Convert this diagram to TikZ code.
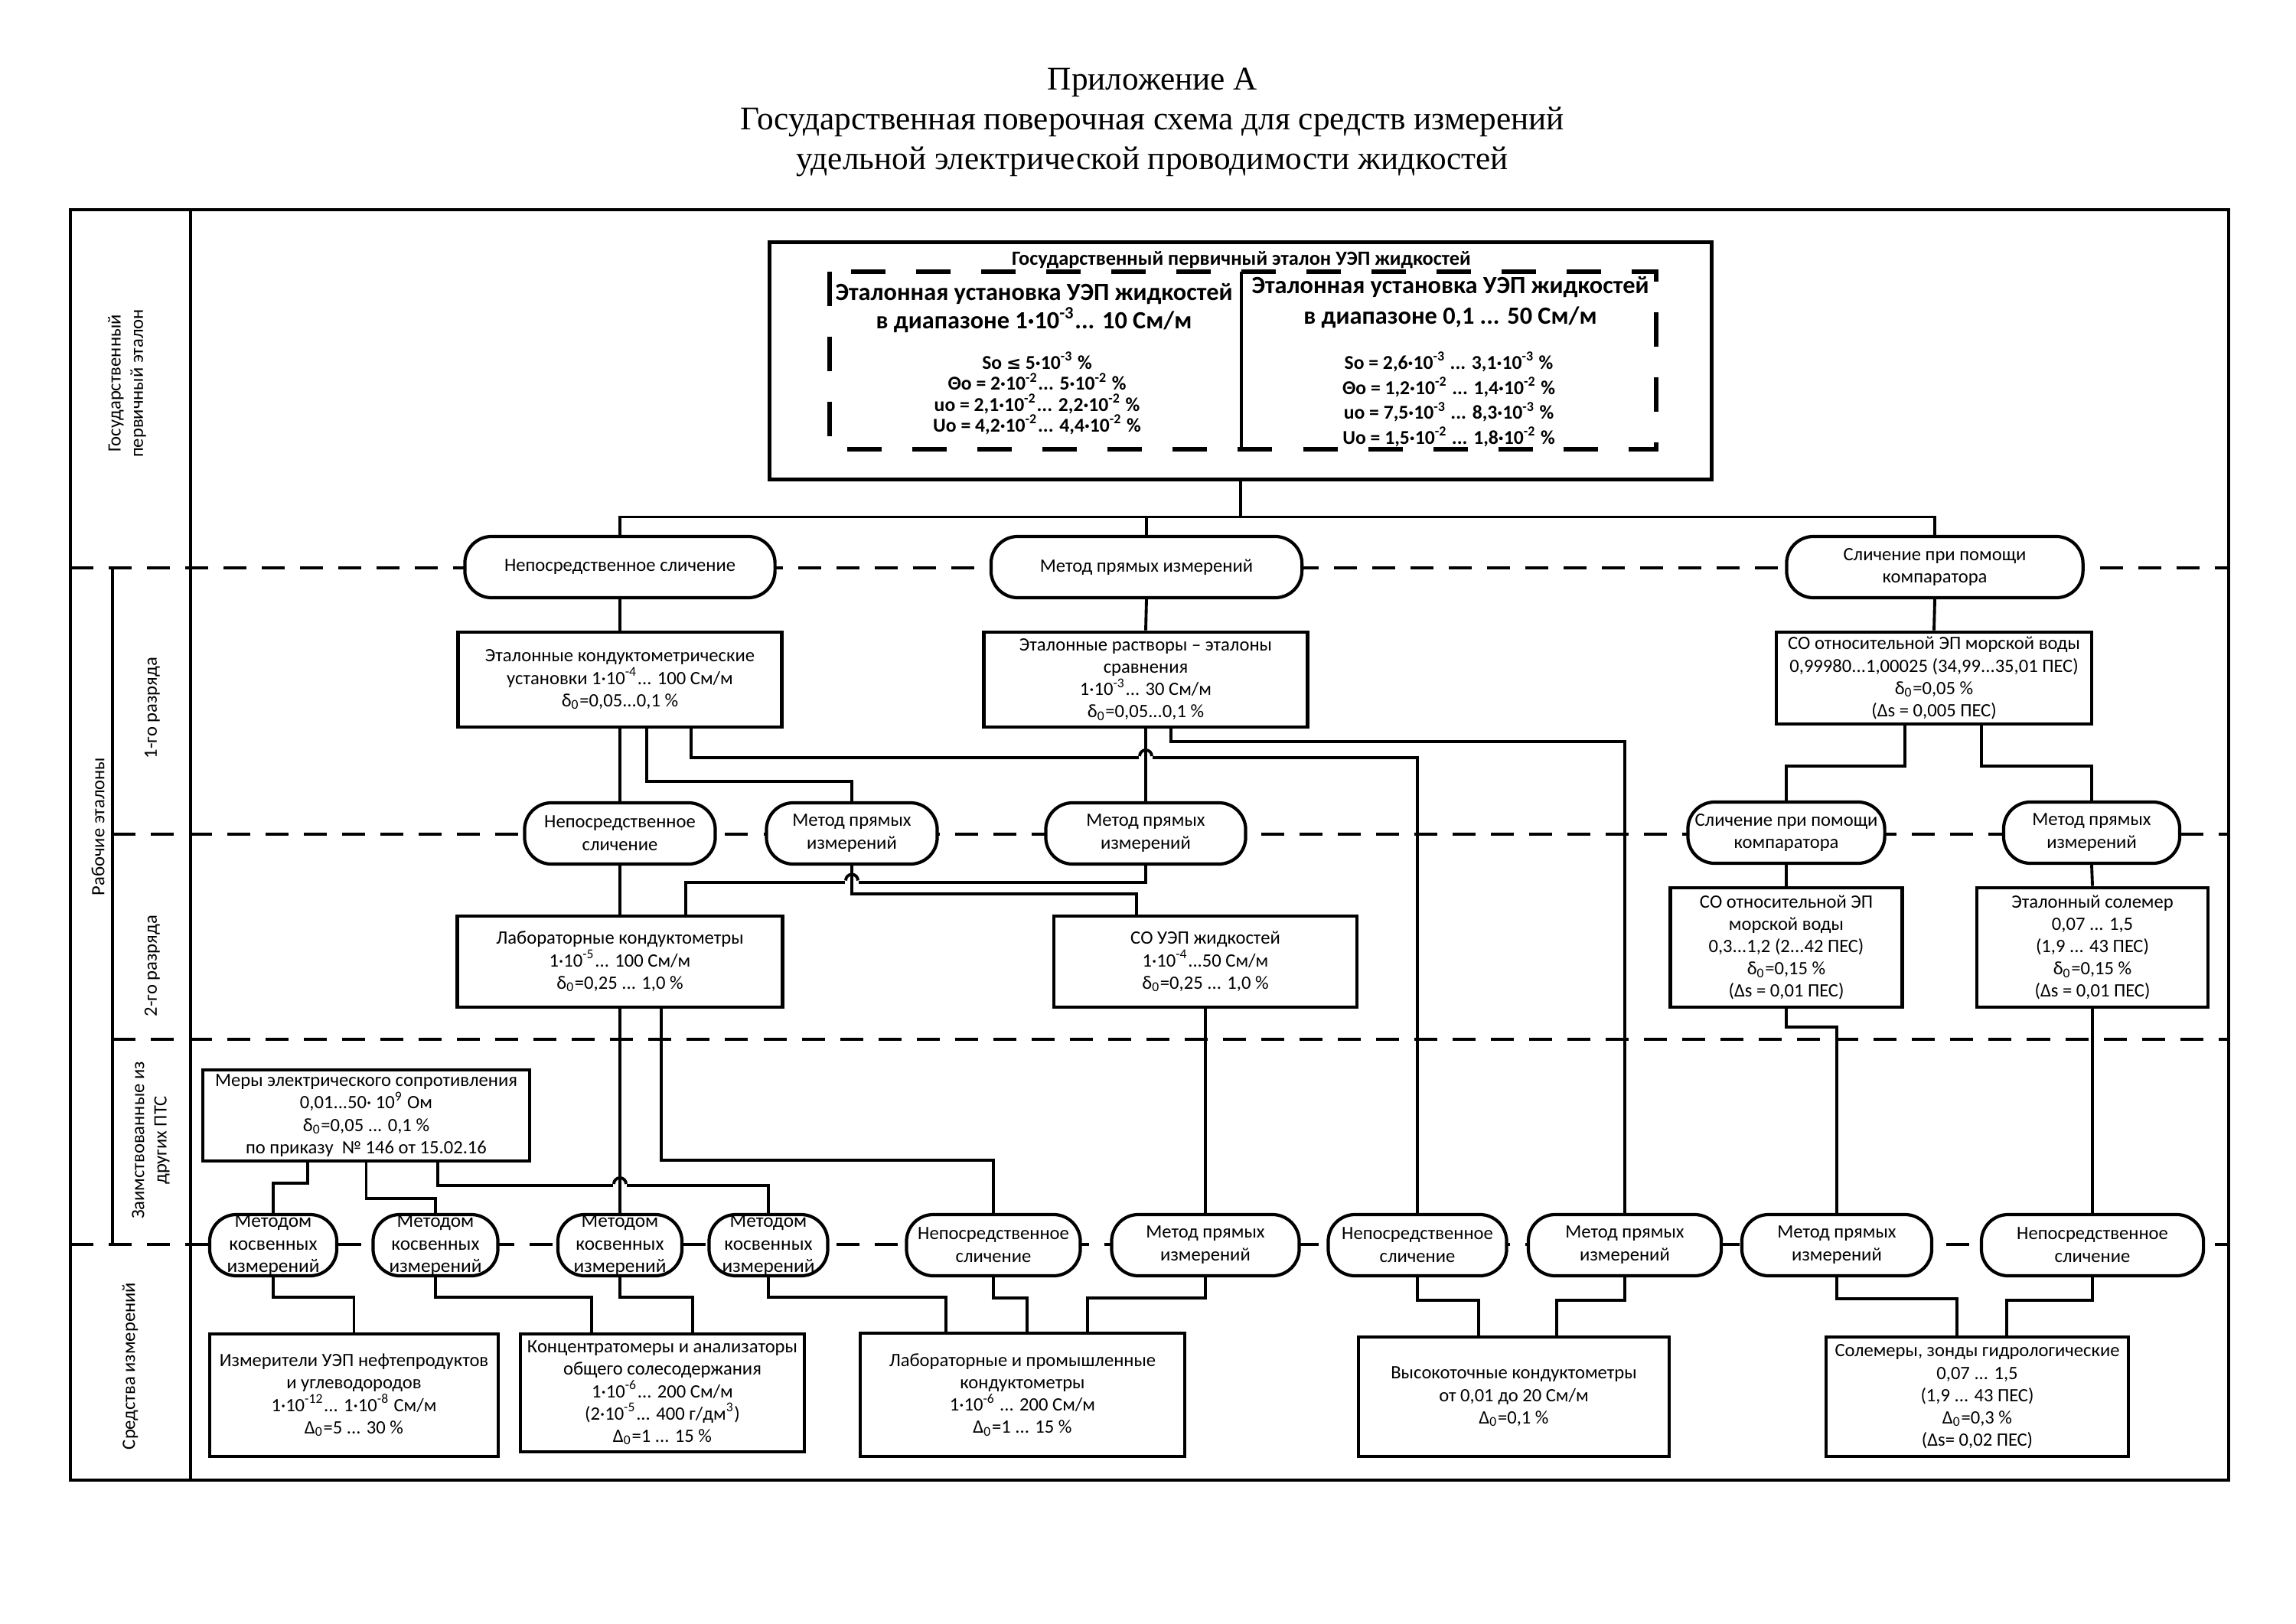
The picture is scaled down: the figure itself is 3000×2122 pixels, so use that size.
\documentclass[tikz,border=0pt]{standalone}
\usepackage{fontspec}
\setmainfont{Carlito}
\newfontfamily\titlefont{Liberation Serif}
\newfontfamily\dvsans{DejaVu Sans}
\usetikzlibrary{calc}
\newcommand{\up}[1]{\textsuperscript{#1}}
\newcommand{\dn}[1]{\textsubscript{#1}}
\tikzset{
  conn/.style={line width=1.1pt},
  sepline/.style={line width=1.4pt, dash pattern=on 0.3cm off 0.2cm},
  framel/.style={line width=1.3pt},
  boxn/.style={draw, line width=1.3pt, fill=white, align=center, inner sep=0pt, font=\fontsize{7}{8.3}\selectfont},
  meth/.style={draw, line width=1.2pt, fill=white, rounded corners=0.35cm, align=center, inner sep=0pt, minimum height=0.8cm, font=\fontsize{7}{8.5}\selectfont},
  kshape/.style={draw, line width=1.2pt, fill=white, rounded corners=0.35cm, inner sep=0pt, minimum height=0.8cm},
  ktext/.style={align=center, inner sep=0pt, font=\fontsize{7.2}{8.3}\selectfont},
  lbl/.style={rotate=90, align=center, inner sep=0pt, font=\fontsize{7}{8.3}\selectfont},
}
\newcommand{\linehop}[2]{%
  \fill[white] (#1-9,#2-5) rectangle (#1+9,#2+5);
  \draw[conn] (#1,#2-12) -- (#1,#2+12);
  \draw[conn] (#1-8,#2) arc[start angle=180,end angle=0,radius=0.08cm];
}
\begin{document}
\begin{tikzpicture}[x=0.01cm, y=-0.01cm]
\useasboundingbox (0,0) rectangle (3000,2122);

% title
\node[font=\titlefont\fontsize{12.3}{14.7}\selectfont, align=center] (title) at (1506,160)
  {Приложение А\\Государственная поверочная схема для средств измерений\\удельной электрической проводимости жидкостей};

% frame and separators
\draw[sepline] (92,742) -- (2912,742);
\draw[sepline] (147,1090) -- (2912,1090);
\draw[sepline] (147,1358) -- (2912,1358);
\draw[sepline] (92,1626) -- (2912,1626);
\draw[framel] (92,274) rectangle (2912,1934);
\draw[framel] (249,274) -- (249,1934);
\draw[framel] (147,742) -- (147,1626);

% row labels
\node[lbl] (L0) at (166,501) {Государственный\\первичный эталон};
\node[lbl] (L1) at (128,1080) {Рабочие эталоны};
\node[lbl] (L1a) at (199,925) {1-го разряда};
\node[lbl] (L1b) at (199,1262) {2-го разряда};
\node[lbl] (L1c) at (197,1490) {Заимствованные из\\других ПТС};
\node[lbl] (L2) at (170,1785) {Средства измерений};

% primary standard
\node[draw, line width=1.4pt, minimum width=12.3cm, minimum height=3.09cm, inner sep=0pt] (T) at (1621,471.5) {};
\node[font=\bfseries\fontsize{7.5}{9}\selectfont, inner sep=0pt] (Tt) at (1622,340) {Государственный первичный эталон УЭП жидкостей};
\draw[line width=1.6pt, dash pattern=on 0.45cm off 0.4cm] (1084,355) rectangle (2164,587);
\draw[line width=1pt] (1622,355) -- (1622,587);
\node[font=\bfseries\fontsize{9.2}{8.6}\selectfont, align=center, inner sep=0pt] (hL) at (1351,403)
  {Эталонная установка УЭП жидкостей\\в диапазоне 1·10\up{-3}... 10 См/м};
\node[font=\bfseries\fontsize{9.2}{11.4}\selectfont, align=center, inner sep=0pt] (hR) at (1895,395)
  {Эталонная установка УЭП жидкостей\\в диапазоне 0,1 ... 50 См/м};
\node[font=\bfseries\fontsize{7.3}{7.8}\selectfont, align=center, inner sep=0pt] (dL) at (1355,514)
  {So {\dvsans\fontsize{6.5}{7}\selectfont ≤} 5·10\up{-3} \%\\Θo = 2·10\up{-2}... 5·10\up{-2} \%\\uo = 2,1·10\up{-2}... 2,2·10\up{-2} \%\\Uo = 4,2·10\up{-2}... 4,4·10\up{-2} \%};
\node[font=\bfseries\fontsize{7.3}{9.3}\selectfont, align=center, inner sep=0pt] (dR) at (1893,522)
  {So = 2,6·10\up{-3} ... 3,1·10\up{-3} \%\\Θo = 1,2·10\up{-2} ... 1,4·10\up{-2} \%\\uo = 7,5·10\up{-3} ... 8,3·10\up{-3} \%\\Uo = 1,5·10\up{-2} ... 1,8·10\up{-2} \%};

% row 1 methods
\node[meth, minimum width=4.05cm] (m1a) at (810,741) {Непосредственное сличение};
\node[meth, minimum width=4.06cm] (m1b) at (1498,741) {Метод прямых измерений};
\node[meth, minimum width=3.87cm] (m1c) at (2528,741) {Сличение при помощи\\компаратора};

% rank 1 boxes
\node[boxn, minimum width=4.23cm, minimum height=1.24cm] (b1a) at (810,888)
  {Эталонные кондуктометрические\\установки 1·10\up{-4}... 100 См/м\\δ\dn{0}=0,05...0,1 \%};
\node[boxn, minimum width=4.23cm, minimum height=1.24cm] (b1b) at (1497,888)
  {Эталонные растворы – эталоны\\сравнения\\1·10\up{-3}... 30 См/м\\δ\dn{0}=0,05...0,1 \%};
\node[boxn, minimum width=4.12cm, minimum height=1.2cm] (b1c) at (2527,886)
  {СО относительной ЭП морской воды\\0,99980...1,00025 (34,99...35,01 ПЕС)\\δ\dn{0}=0,05 \%\\(Δs = 0,005 ПЕС)};

% row 2 methods
\node[meth, minimum width=2.49cm] (m2a) at (810,1089) {Непосредственное\\сличение};
\node[meth, minimum width=2.23cm] (m2b) at (1113,1089) {Метод прямых\\измерений};
\node[meth, minimum width=2.61cm] (m2c) at (1497,1089) {Метод прямых\\измерений};
\node[meth, minimum width=2.57cm] (m2d) at (2334,1088) {Сличение при помощи\\компаратора};
\node[meth, minimum width=2.30cm] (m2e) at (2733,1088) {Метод прямых\\измерений};

% rank 2 boxes
\node[boxn, minimum width=4.25cm, minimum height=1.19cm] (b2a) at (810,1256.5)
  {Лабораторные кондуктометры\\1·10\up{-5}... 100 См/м\\δ\dn{0}=0,25 ... 1,0 \%};
\node[boxn, minimum width=3.96cm, minimum height=1.19cm] (b2b) at (1575,1256.5)
  {СО УЭП жидкостей\\1·10\up{-4}...50 См/м\\δ\dn{0}=0,25 ... 1,0 \%};
\node[boxn, minimum width=3.03cm, minimum height=1.56cm] (b2c) at (2334,1238)
  {СО относительной ЭП\\морской воды\\0,3...1,2 (2...42 ПЕС)\\δ\dn{0}=0,15 \%\\(Δs = 0,01 ПЕС)};
\node[boxn, minimum width=3.02cm, minimum height=1.56cm] (b2d) at (2734,1238)
  {Эталонный солемер\\0,07 ... 1,5\\(1,9 ... 43 ПЕС)\\δ\dn{0}=0,15 \%\\(Δs = 0,01 ПЕС)};

% borrowed
\node[boxn, minimum width=4.27cm, minimum height=1.19cm] (b3) at (478.5,1457.5)
  {Меры электрического сопротивления\\0,01...50· 10\up{9} Ом\\δ\dn{0}=0,05 ... 0,1 \%\\по приказу~ № 146 от 15.02.16};

% row 4 methods
\node[kshape, minimum width=1.66cm] (k1) at (357,1627) {};
\node[kshape, minimum width=1.63cm] (k2) at (569,1627) {};
\node[kshape, minimum width=1.62cm] (k3) at (810,1627) {};
\node[kshape, minimum width=1.55cm] (k4) at (1004,1627) {};
\node[ktext] (k1t) at (k1) {Методом\\косвенных\\измерений};
\node[ktext] (k2t) at (k2) {Методом\\косвенных\\измерений};
\node[ktext] (k3t) at (k3) {Методом\\косвенных\\измерений};
\node[ktext] (k4t) at (k4) {Методом\\косвенных\\измерений};
\node[meth, minimum width=2.27cm] (n4a) at (1298,1627) {Непосредственное\\сличение};
\node[meth, minimum width=2.45cm] (p4a) at (1575,1627) {Метод прямых\\измерений};
\node[meth, minimum width=2.33cm] (n4b) at (1852,1627) {Непосредственное\\сличение};
\node[meth, minimum width=2.52cm] (p4b) at (2123,1627) {Метод прямых\\измерений};
\node[meth, minimum width=2.48cm] (p4c) at (2400,1627) {Метод прямых\\измерений};
\node[meth, minimum width=2.90cm] (n4c) at (2734,1627) {Непосредственное\\сличение};

% measuring instruments
\node[boxn, minimum width=3.77cm, minimum height=1.60cm] (e1) at (462.5,1823)
  {Измерители УЭП нефтепродуктов\\и углеводородов\\1·10\up{-12}... 1·10\up{-8} См/м\\Δ\dn{0}=5 ... 30 \%};
\node[boxn, minimum width=3.71cm, minimum height=1.54cm] (e2) at (865.5,1820)
  {Концентратомеры и анализаторы\\общего солесодержания\\1·10\up{-6}... 200 См/м\\(2·10\up{-5}... 400 г/дм\up{3})\\Δ\dn{0}=1 ... 15 \%};
\node[boxn, minimum width=4.24cm, minimum height=1.61cm] (e3) at (1336,1822.5)
  {Лабораторные и промышленные\\кондуктометры\\1·10\up{-6} ... 200 См/м\\Δ\dn{0}=1 ... 15 \%};
\node[boxn, minimum width=4.06cm, minimum height=1.56cm] (e4) at (1978,1825)
  {Высокоточные кондуктометры\\от 0,01 до 20 См/м\\Δ\dn{0}=0,1 \%};
\node[boxn, minimum width=3.95cm, minimum height=1.56cm] (e5) at (2583.5,1825)
  {Солемеры, зонды гидрологические\\0,07 ... 1,5\\(1,9 ... 43 ПЕС)\\Δ\dn{0}=0,3 \%\\(Δs= 0,02 ПЕС)};

% connectors: top
\draw[conn] (T.south) -- ++(0,47) coordinate (J);
\draw[conn] (m1a.north) |- (J) -| (m1c.north);
\draw[conn] (m1b.north) -- (m1b.north |- J);
\draw[conn] (m1a.south) -- (b1a.north);
\draw[conn] (m1b.south) -- (b1b.north);
\draw[conn] (m1c.south) -- (b1c.north);

% rank 1 -> row 2
\draw[conn] (b1a.south) -- (m2a.north);
\draw[conn] ([xshift=0.35cm]b1a.south) -- ++(0,69) -| (m2b.north);
\draw[conn] ([xshift=0.93cm]b1a.south) -- ++(0,38) -| (n4b.north);
\draw[conn] (b1b.south) -- (m2c.north);
\draw[conn] ([xshift=0.33cm]b1b.south) -- ++(0,17) -| (p4b.north);
\draw[conn] ([xshift=-0.38cm]b1c.south) -- ++(0,53) -| (m2d.north);
\draw[conn] ([xshift=0.62cm]b1c.south) -- ++(0,53) -| (m2e.north);
\linehop{1497}{988}

% row 2 -> rank 2
\draw[conn] (m2a.south) -- (b2a.north);
\draw[conn] (m2b.south) -- ++(0,37) -| ([xshift=-0.9cm]b2b.north);
\draw[conn] (m2c.south) -- ++(0,22) -| ([xshift=0.86cm]b2a.north);
\draw[conn] (m2d.south) -- (b2c.north);
\draw[conn] (m2e.south) -- (b2d.north);
\linehop{1113}{1150.5}

% rank 2 -> row 4
\draw[conn] (b2a.south) -- (k3.north);
\draw[conn] ([xshift=0.54cm]b2a.south) -- ++(0,198) -| (n4a.north);
\draw[conn] (b2b.south) -- (p4a.north);
\draw[conn] (b2c.south) -- ++(0,24) -| (p4c.north);
\draw[conn] (b2d.south) -- (n4c.north);

% borrowed -> row 4
\draw[conn] ([xshift=-0.765cm]b3.south) -- ++(0,27) -| (k1.north);
\draw[conn] (b3.south) -- ++(0,47) -| (k2.north);
\draw[conn] ([xshift=0.935cm]b3.south) -- ++(0,30) -| (k4.north);
\linehop{810}{1547}

% row 4 -> instruments
\draw[conn] (k1.south) -- ++(0,26) -| (e1.north);
\draw[conn] (k2.south) -- ++(0,26) -| ([xshift=-0.925cm]e2.north);
\draw[conn] (k3.south) -- ++(0,26) -| ([xshift=0.395cm]e2.north);
\draw[conn] (k4.south) -- ++(0,26) -| ([xshift=-1cm]e3.north);
\draw[conn] (n4a.south) -- ++(0,27) -| ([xshift=0.06cm]e3.north);
\draw[conn] (p4a.south) -- ++(0,27) -| ([xshift=0.85cm]e3.north);
\draw[conn] (n4b.south) -- ++(0,30) -| ([xshift=-0.46cm]e4.north);
\draw[conn] (p4b.south) -- ++(0,30) -| ([xshift=0.56cm]e4.north);
\draw[conn] (p4c.south) -- ++(0,28) -| ([xshift=-0.265cm]e5.north);
\draw[conn] (n4c.south) -- ++(0,30) -| ([xshift=0.385cm]e5.north);
\end{tikzpicture}
\end{document}
